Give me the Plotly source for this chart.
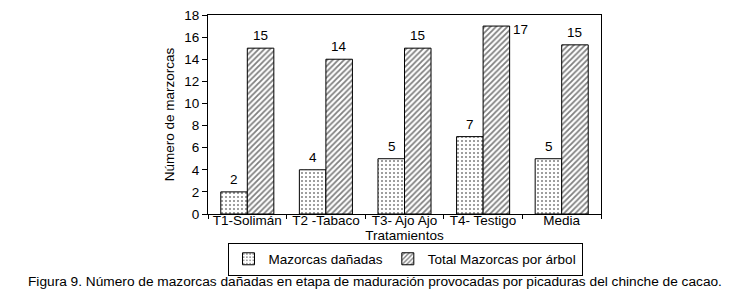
import plotly.graph_objects as go

categorias = ["T1-Solimán", "T2 -Tabaco", "T3- Ajo Ajo", "T4- Testigo", "Media"]
danadas = [2, 4, 5, 7, 5]
totales = [15, 14, 15, 17, 15.3]
y_ticks = [0, 2, 4, 6, 8, 10, 12, 14, 16, 18]

FONT = "Liberation Sans, Arial, sans-serif"

fig = go.Figure()
fig.add_trace(go.Bar(
    x=categorias, y=danadas, name="Mazorcas dañadas",
    marker=dict(color="white", line=dict(color="black", width=1),
                pattern=dict(shape=".", fgcolor="black", bgcolor="white", size=4, solidity=0.2)),
))
fig.add_trace(go.Bar(
    x=categorias, y=totales, name="Total Mazorcas por árbol",
    marker=dict(color="white", line=dict(color="black", width=1),
                pattern=dict(shape="/", fgcolor="black", bgcolor="white", size=4, solidity=0.45)),
))

annotations = []
for i, c in enumerate(categorias):
    annotations.append(dict(x=c, y=danadas[i], xref="x", yref="y", text=f"{danadas[i]:.0f}",
                            showarrow=False, xshift=-13, yanchor="bottom", yshift=3,
                            font=dict(size=13.5, color="black", family=FONT)))
    if totales[i] > 16.5:
        annotations.append(dict(x=c, y=totales[i], xref="x", yref="y", text=f"{totales[i]:.0f}",
                                showarrow=False, xshift=37, yanchor="middle", yshift=-3,
                                font=dict(size=13.5, color="black", family=FONT)))
    else:
        annotations.append(dict(x=c, y=totales[i], xref="x", yref="y", text=f"{totales[i]:.0f}",
                                showarrow=False, xshift=13, yanchor="bottom", yshift=3,
                                font=dict(size=13.5, color="black", family=FONT)))

annotations.append(dict(
    x=(367 - 200) / 393, y=-67 / 199, xref="paper", yref="paper", xanchor="center", yanchor="middle",
    text="Figura 9. Número de mazorcas dañadas en etapa de maduración provocadas por picaduras del chinche de cacao.",
    showarrow=False, font=dict(size=13.7, color="black", family=FONT)))

fig.update_layout(
    width=734, height=290,
    margin=dict(l=200, r=141, t=7, b=84, autoexpand=False),
    paper_bgcolor="white", plot_bgcolor="white",
    barmode="group", bargap=0.325, bargroupgap=0,
    font=dict(family=FONT, size=13.5, color="black"),
    showlegend=True,
    legend=dict(orientation="h", x=(397 - 200) / 393, y=-45 / 199,
                xanchor="center", yanchor="middle",
                bordercolor="black", borderwidth=1, font=dict(size=13.5, family=FONT),
                itemwidth=30, bgcolor="rgba(0,0,0,0)", tracegroupgap=0),
    annotations=annotations,
    xaxis=dict(showline=True, linecolor="black", linewidth=1, mirror=True,
               ticks="outside", tickson="boundaries", ticklen=4, tickcolor="black",
               tickangle=0, tickfont=dict(size=13.5, family=FONT), ticklabelstandoff=-6,
               title=dict(text="Tratamientos", font=dict(size=13.5, family=FONT), standoff=0)),
    yaxis=dict(range=[0, 18.0001], tickvals=y_ticks, showline=True, linecolor="black", linewidth=1,
               mirror=True, ticks="outside", ticklen=5, tickcolor="black", showgrid=False,
               zeroline=False, tickfont=dict(size=13.5, family=FONT), ticklabeloverflow="allow",
               title=dict(text="Número de marzorcas", font=dict(size=13.5, family=FONT), standoff=6)),
)

fig.write_html("out.html")
